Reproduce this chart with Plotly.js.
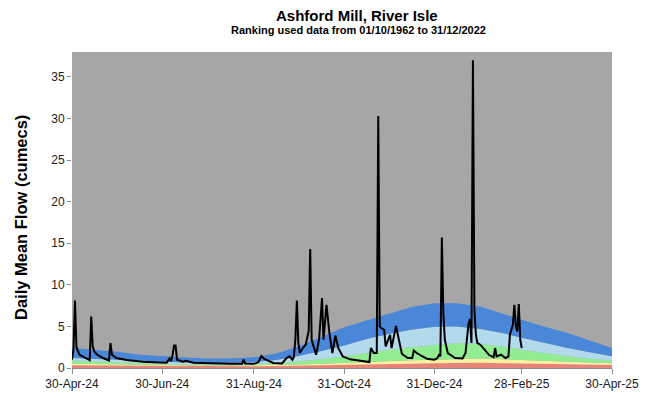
<!DOCTYPE html>
<html>
<head>
<meta charset="utf-8">
<script src="https://cdn.plot.ly/plotly-3.0.1.min.js"></script>
<style>html,body{margin:0;padding:0;background:#fff;}#chart{width:653px;height:398px;}</style>
</head>
<body>
<div id="chart"></div>
<script>
// Seasonal ranking band boundaries (upper edge of each band)
var bandDates = ['2024-04-30','2024-05-15','2024-05-31','2024-06-15','2024-06-30','2024-07-15','2024-07-31','2024-08-15','2024-08-31','2024-09-15','2024-09-30','2024-10-15','2024-10-31','2024-11-15','2024-11-30','2024-12-15','2024-12-31','2025-01-15','2025-01-31','2025-02-15','2025-02-28','2025-03-15','2025-03-31','2025-04-15','2025-04-30'];
var redTop    = [0.32,0.30,0.28,0.25,0.23,0.22,0.21,0.21,0.22,0.25,0.28,0.33,0.38,0.43,0.48,0.52,0.56,0.60,0.62,0.58,0.55,0.50,0.45,0.40,0.36];
var yellowTop = [0.50,0.46,0.42,0.37,0.34,0.32,0.30,0.30,0.32,0.36,0.42,0.52,0.64,0.74,0.84,0.92,1.00,1.10,1.15,1.05,0.96,0.86,0.76,0.66,0.56];
var greenTop  = [0.90,0.80,0.70,0.56,0.50,0.46,0.43,0.43,0.48,0.60,0.82,1.05,1.40,1.80,2.20,2.50,2.80,3.00,2.90,2.60,2.20,1.80,1.40,1.10,0.90];
var lightBlueTop = [1.20,1.10,1.00,0.82,0.72,0.66,0.62,0.62,0.72,0.95,1.45,2.00,2.70,3.50,4.10,4.60,4.95,5.00,4.70,4.20,3.65,3.00,2.40,1.90,1.40];
var blueTop   = [2.40,2.20,1.95,1.60,1.40,1.25,1.15,1.15,1.30,1.75,2.60,3.70,4.90,5.70,6.50,7.30,7.80,7.80,7.40,6.50,5.80,5.00,4.20,3.30,2.40];

// Daily mean flow (cumecs)
var flowDates = ['2024-04-30','2024-05-01','2024-05-02','2024-05-03','2024-05-05','2024-05-08','2024-05-10','2024-05-12','2024-05-13','2024-05-14','2024-05-15','2024-05-17','2024-05-21','2024-05-25','2024-05-26','2024-05-27','2024-05-30','2024-06-06','2024-06-17','2024-06-28','2024-07-03','2024-07-05','2024-07-06','2024-07-07','2024-07-08','2024-07-09','2024-07-10','2024-07-14','2024-07-16','2024-07-21','2024-08-01','2024-08-15','2024-08-23','2024-08-24','2024-08-25','2024-08-31','2024-09-03','2024-09-05','2024-09-07','2024-09-10','2024-09-13','2024-09-19','2024-09-21','2024-09-22','2024-09-24','2024-09-26','2024-09-27','2024-09-28','2024-09-29','2024-09-30','2024-10-01','2024-10-03','2024-10-05','2024-10-07','2024-10-08','2024-10-09','2024-10-12','2024-10-14','2024-10-16','2024-10-17','2024-10-19','2024-10-21','2024-10-23','2024-10-25','2024-10-27','2024-10-30','2024-11-04','2024-11-13','2024-11-17','2024-11-18','2024-11-20','2024-11-22','2024-11-23','2024-11-24','2024-11-25','2024-11-27','2024-11-28','2024-12-01','2024-12-02','2024-12-05','2024-12-07','2024-12-09','2024-12-13','2024-12-16','2024-12-17','2024-12-19','2024-12-22','2024-12-26','2024-12-31','2025-01-02','2025-01-03','2025-01-04','2025-01-05','2025-01-06','2025-01-07','2025-01-09','2025-01-14','2025-01-19','2025-01-21','2025-01-22','2025-01-23','2025-01-24','2025-01-25','2025-01-26','2025-01-27','2025-01-28','2025-01-29','2025-01-31','2025-02-02','2025-02-06','2025-02-09','2025-02-10','2025-02-11','2025-02-14','2025-02-17','2025-02-19','2025-02-20','2025-02-21','2025-02-22','2025-02-23','2025-02-24','2025-02-25','2025-02-26','2025-02-27','2025-02-28'];
var flowValues = [1.0,2.2,8.1,2.5,1.6,1.3,1.2,0.95,6.2,2.6,2.0,1.6,1.2,0.9,3.0,1.6,1.2,0.95,0.76,0.64,0.64,1.15,0.8,1.6,2.7,2.7,1.0,0.76,0.88,0.64,0.55,0.5,0.5,1.0,0.55,0.5,0.7,1.44,1.1,0.8,0.6,0.55,0.9,1.2,1.4,1.0,1.35,3.5,8.1,3.0,1.8,2.4,2.8,4.5,14.3,3.4,1.6,3.4,8.4,3.4,7.6,4.2,1.8,3.9,2.4,1.4,1.04,0.84,0.72,2.4,1.8,1.8,30.3,5.0,4.8,4.6,2.6,4.0,2.4,5.05,3.2,1.7,1.2,1.2,2.1,1.8,1.5,1.1,1.0,1.2,1.56,1.4,15.7,6.6,3.4,1.8,1.2,1.15,1.8,3.4,5.3,5.9,3.0,37.0,7.0,4.0,3.0,2.8,2.4,1.56,1.3,2.4,1.4,1.6,1.2,1.36,4.0,4.6,5.2,7.6,5.0,4.4,7.7,3.4,2.4];

var xTickVals = ['2024-04-30','2024-06-30','2024-08-31','2024-10-31','2024-12-31','2025-02-28','2025-04-30'];
var xTickText = ['30-Apr-24','30-Jun-24','31-Aug-24','31-Oct-24','31-Dec-24','28-Feb-25','30-Apr-25'];

var bands = [
  {y: redTop, color: '#E8837A', fill: 'tozeroy'},
  {y: yellowTop, color: '#FCEFA0', fill: 'tonexty'},
  {y: greenTop, color: '#92EC92', fill: 'tonexty'},
  {y: lightBlueTop, color: '#B2D9EC', fill: 'tonexty'},
  {y: blueTop, color: '#4A87D8', fill: 'tonexty'}
];
var traces = bands.map(function(b){
  return {x: bandDates, y: b.y, type: 'scatter', mode: 'lines', fill: b.fill,
          fillcolor: b.color, line: {width: 0, color: b.color}, hoverinfo: 'skip', showlegend: false};
});
traces.push({x: flowDates, y: flowValues, type: 'scatter', mode: 'lines',
  line: {color: '#000000', width: 2}, showlegend: false});

var fontFam = 'Liberation Sans, Arial, sans-serif';
var narrowFam = 'Liberation Sans Narrow, Arial Narrow, Liberation Sans, Arial';
var layout = {
  width: 653, height: 398,
  margin: {l: 72, r: 41, t: 52, b: 30},
  paper_bgcolor: '#ffffff',
  plot_bgcolor: '#A6A6A6',
  showlegend: false,
  font: {family: fontFam, size: 12, color: '#1a1a1a'},
  xaxis: {
    type: 'date', range: ['2024-04-30','2025-04-30'],
    tickmode: 'array', tickvals: xTickVals, ticktext: xTickText,
    ticks: 'outside', ticklen: 5, tickcolor: '#8c8c8c', tickwidth: 1,
    showline: true, linecolor: '#8c8c8c', linewidth: 1,
    showgrid: false, zeroline: false,
    tickfont: {size: 12, family: fontFam, color: '#1a1a1a'}
  },
  yaxis: {
    range: [0, 38], tickvals: [0,5,10,15,20,25,30,35],
    ticks: 'outside', ticklen: 4, tickcolor: '#8c8c8c',
    showline: false, showgrid: false, zeroline: false,
    tickfont: {size: 12, family: fontFam, color: '#1a1a1a'}
  },
  annotations: [
    {text: '<b>Ashford Mill, River Isle</b>', xref: 'paper', yref: 'paper',
     x: 0.528, y: 1, yshift: 37, xanchor: 'center', yanchor: 'middle', showarrow: false,
     font: {size: 15, family: narrowFam, color: '#000'}},
    {text: '<b>Ranking used data from 01/10/1962 to 31/12/2022</b>', xref: 'paper', yref: 'paper',
     x: 0.53, y: 1, yshift: 22, xanchor: 'center', yanchor: 'middle', showarrow: false,
     font: {size: 11, family: narrowFam, color: '#000'}},
    {text: '<b>Daily Mean Flow (cumecs)</b>', xref: 'paper', yref: 'paper',
     x: -0.0944, y: 0.4747, textangle: -90, xanchor: 'center', yanchor: 'middle', showarrow: false,
     font: {size: 16.5, family: fontFam, color: '#000'}}
  ]
};
Plotly.newPlot('chart', traces, layout, {displayModeBar: false, staticPlot: true});
</script>
</body>
</html>
